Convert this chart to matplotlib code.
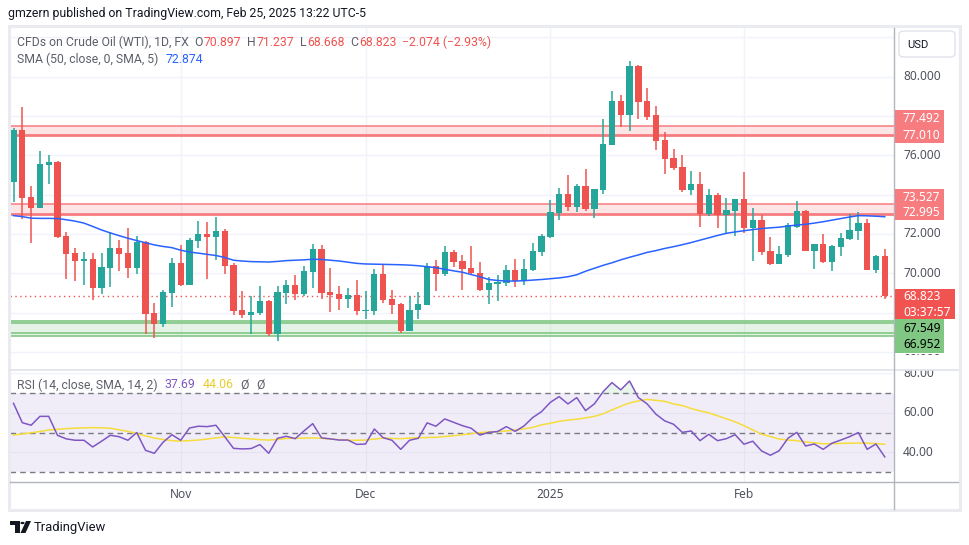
import numpy as np
import pandas as pd
import matplotlib
matplotlib.use("Agg")
import matplotlib.pyplot as plt
from matplotlib.patches import Rectangle, FancyBboxPatch, Polygon, Circle
from matplotlib.transforms import Bbox, TransformedBbox

# ---------------- data ----------------
opens = [74.66, 77.29, 73.88, 73.33, 75.52, 75.66, 71.89, 71.03, 70.64, 70.72,
         69.26, 70.28, 71.28, 71.03, 70.28, 71.59, 67.97, 67.43, 69.01, 70.52,
         69.42, 71.66, 72.00, 71.86, 72.15, 70.42, 68.13, 67.87, 67.97, 68.58,
         66.92, 69.01, 69.40, 68.94, 70.06, 71.23, 69.04, 68.94, 68.69, 68.89,
         68.09, 68.09, 69.96, 68.69, 68.43, 67.08, 68.13, 68.38, 70.37, 69.96,
         71.08, 70.62, 70.26, 70.01, 69.15, 69.45, 69.50, 70.16, 69.60, 70.16,
         71.08, 71.84, 73.06, 74.03, 73.37, 74.44, 73.27, 74.24, 76.52, 78.76,
         78.05, 80.55, 78.76, 78.05, 76.78, 75.86, 75.40, 74.23, 74.54, 73.01,
         73.98, 72.96, 73.17, 73.78, 72.30, 72.71, 71.13, 70.47, 70.93, 72.35,
         73.17, 71.13, 71.49, 70.57, 71.33, 71.74, 72.15, 72.55, 70.16, 70.897]
highs = [77.41, 78.47, 74.44, 76.22, 76.02, 75.70, 72.10, 71.28, 71.08, 71.03,
         71.03, 72.10, 71.69, 72.32, 71.89, 71.62, 68.48, 69.14, 70.77, 71.44,
         71.79, 72.66, 72.61, 72.86, 72.25, 70.50, 69.09, 68.84, 69.35, 68.63,
         69.35, 69.65, 69.91, 70.37, 71.49, 71.44, 70.27, 69.35, 69.25, 69.65,
         69.09, 70.21, 70.47, 69.14, 68.48, 68.84, 69.04, 70.52, 70.67, 71.38,
         71.18, 70.93, 71.38, 70.57, 69.81, 69.91, 70.42, 70.72, 70.72, 71.54,
         72.00, 73.73, 74.34, 75.00, 74.54, 75.30, 74.31, 77.85, 79.27, 79.07,
         80.80, 80.60, 79.42, 78.51, 77.19, 76.30, 76.02, 75.20, 75.15, 74.29,
         74.08, 73.83, 73.80, 75.15, 73.32, 72.96, 71.84, 71.38, 72.55, 73.67,
         73.22, 71.49, 71.99, 71.44, 72.05, 73.01, 73.11, 72.76, 70.93, 71.237]
lows = [73.64, 72.74, 71.55, 73.30, 74.54, 71.81, 69.72, 69.62, 69.42, 68.65,
        68.96, 69.32, 70.13, 69.77, 69.98, 66.92, 66.72, 67.28, 68.30, 69.36,
        69.40, 71.30, 69.72, 70.69, 69.98, 67.87, 67.74, 66.92, 67.87, 66.82,
        66.57, 68.43, 68.64, 68.84, 69.25, 68.69, 68.03, 68.13, 68.23, 67.87,
        67.67, 67.87, 68.48, 67.92, 66.97, 67.06, 67.67, 68.36, 69.09, 69.86,
        70.32, 69.15, 69.96, 69.09, 68.43, 68.59, 69.35, 69.30, 69.40, 70.11,
        70.88, 71.79, 72.71, 73.17, 73.12, 73.17, 72.81, 74.03, 76.50, 77.46,
        77.24, 77.85, 77.80, 76.27, 75.05, 75.25, 74.13, 73.98, 72.35, 72.91,
        72.30, 72.05, 71.89, 72.05, 70.62, 70.93, 70.42, 70.45, 70.83, 72.30,
        71.13, 70.21, 70.52, 70.11, 70.88, 71.69, 71.69, 70.14, 70.01, 68.668]
closes = [77.29, 73.84, 73.33, 75.56, 75.66, 71.86, 70.99, 70.64, 70.72, 69.26,
          70.32, 71.28, 70.99, 70.28, 71.60, 67.94, 67.43, 69.04, 70.52, 69.42,
          71.69, 72.00, 71.86, 72.15, 70.38, 68.09, 67.87, 68.03, 68.58, 66.92,
          69.04, 69.40, 68.94, 70.11, 71.23, 69.01, 68.89, 68.69, 68.89, 68.09,
          68.13, 69.96, 68.64, 68.38, 67.08, 68.13, 68.43, 70.37, 69.96, 71.08,
          70.57, 70.21, 70.00, 69.15, 69.50, 69.55, 70.16, 69.60, 70.21, 71.13,
          71.89, 73.11, 74.03, 73.37, 74.44, 73.27, 74.29, 76.58, 78.76, 78.05,
          80.55, 78.71, 77.94, 76.73, 75.81, 75.35, 74.23, 74.54, 73.01, 73.98,
          72.96, 73.22, 73.78, 72.30, 72.71, 71.08, 70.47, 70.98, 72.45, 73.17,
          71.13, 71.49, 70.57, 71.38, 71.79, 72.20, 72.55, 70.16, 70.897, 68.823]
sma50 = [72.93, 72.88, 72.80, 72.79, 72.79, 72.78, 72.72, 72.65, 72.55, 72.38,
         72.20, 72.05, 71.91, 71.78, 71.66, 71.55, 71.44, 71.36, 71.30, 71.17,
         71.08, 71.02, 70.96, 70.90, 70.80, 70.66, 70.62, 70.59, 70.58, 70.57,
         70.60, 70.64, 70.66, 70.68, 70.71, 70.70, 70.66, 70.62, 70.56, 70.50,
         70.47, 70.46, 70.45, 70.44, 70.43, 70.41, 70.38, 70.33, 70.28, 70.20,
         70.12, 70.05, 69.93, 69.82, 69.68, 69.63, 69.60, 69.60, 69.62, 69.65,
         69.68, 69.72, 69.76, 69.82, 69.92, 70.10, 70.25, 70.40, 70.53, 70.68,
         70.81, 70.93, 71.06, 71.15, 71.26, 71.35, 71.45, 71.56, 71.68, 71.80,
         71.92, 72.03, 72.10, 72.16, 72.22, 72.27, 72.31, 72.34, 72.40, 72.45,
         72.49, 72.55, 72.62, 72.70, 72.78, 72.86, 72.93, 72.92, 72.90, 72.874]
rsi = [64.8, 55.0, 53.7, 58.2, 58.2, 48.6, 46.8, 46.1, 46.1, 42.7,
       45.6, 48.6, 47.9, 46.1, 50.0, 41.0, 39.5, 45.1, 48.9, 46.1,
       52.3, 53.2, 53.0, 53.7, 47.9, 42.0, 41.7, 41.9, 43.9, 39.5,
       47.1, 48.1, 46.9, 50.8, 54.5, 47.3, 46.8, 46.2, 46.2, 44.0,
       44.2, 51.8, 47.4, 46.1, 41.5, 46.1, 47.1, 54.9, 53.2, 56.9,
       55.2, 53.5, 52.2, 48.7, 50.1, 50.5, 53.0, 50.6, 53.3, 57.6,
       60.6, 65.3, 68.2, 64.5, 67.7, 61.1, 64.5, 70.7, 75.3, 71.6,
       76.1, 67.7, 64.5, 59.3, 55.9, 54.2, 50.1, 50.8, 45.9, 49.1,
       45.9, 46.9, 48.9, 44.1, 45.6, 40.7, 38.5, 40.8, 47.1, 50.1,
       43.2, 44.2, 41.5, 44.6, 46.2, 47.9, 50.0, 41.5, 44.2, 37.69]
rsi_sma = [48.8, 49.3, 49.9, 50.5, 51.3, 51.6, 52.0, 52.2, 52.4, 52.5,
           52.4, 52.2, 51.4, 50.6, 49.5, 48.3, 47.2, 46.5, 45.9, 45.7,
           45.9, 46.2, 46.7, 47.3, 47.8, 47.5, 47.1, 46.8, 46.4, 46.2,
           46.5, 47.0, 47.1, 47.2, 47.3, 47.1, 46.7, 46.4, 46.1, 46.1,
           46.2, 46.7, 47.2, 47.0, 46.9, 47.2, 47.4, 47.5, 47.6, 48.0,
           48.4, 48.9, 49.4, 49.96, 50.3, 50.5, 50.8, 51.2, 51.9, 52.6,
           53.9, 54.7, 55.7, 56.3, 56.8, 57.4, 58.2, 59.5, 61.5, 63.3,
           65.0, 66.0, 66.8, 66.3, 65.8, 64.5, 63.7, 62.2, 61.0, 60.0,
           58.5, 57.0, 55.4, 53.5, 51.3, 49.2, 48.0, 46.7, 46.2, 45.9,
           45.2, 44.8, 44.3, 44.4, 44.5, 44.6, 44.7, 44.6, 44.4, 44.06]
resist_zones = [(77.010, 77.492), (72.995, 73.527)]
support_zone = (66.952, 67.549)
support_zone_inner = (66.80, 67.45)
countdown = "03:37:57"
price_tick_values = [80, 76, 72, 70, 66]
price_grid_values = [66, 68, 70, 72, 74, 76, 78, 80, 82]
rsi_tick_values = [80, 60, 40]
rsi_levels = [70, 50, 30]

dates = pd.bdate_range("2024-10-07", "2025-02-25")
dates = dates[~dates.isin(pd.to_datetime(["2024-12-25", "2025-01-01"]))]

# ---------------- styling ----------------
FONT = ["Noto Sans", "DejaVu Sans"]
UI = ["Roboto", "DejaVu Sans"]
plt.rcParams["font.family"] = FONT
GREEN = "#26A69A"
RED = "#EF5350"
GRID = "#F0F3FA"
AXCOL = "#B2B5BE"
TXT = "#131722"
GRAY = "#50535E"

W, H = 970, 545
fig = plt.figure(figsize=(W / 100, H / 100), dpi=100)
fig.patch.set_facecolor("white")


def fx(x):
    return x / W


def fy(y):
    return 1 - y / H


def axrect(x0, y0, x1, y1):
    return [fx(x0), fy(y1), (x1 - x0) / W, (y1 - y0) / H]


ax = fig.add_axes(axrect(10, 28, 894, 369))
axr = fig.add_axes(axrect(10, 369, 894, 482), sharex=ax)
for a in (ax, axr):
    for s in a.spines.values():
        s.set_visible(False)
    a.tick_params(left=False, bottom=False, labelleft=False, labelbottom=False)
    a.set_facecolor("none")

n = len(closes)
x = np.arange(n)
ax.set_xlim(-0.398, 100.05)
ax.set_ylim(65.125, 82.478)
axr.set_ylim(24.96, 82.18)

# month tick positions
month_idx = [i for i in range(n) if i == 0 or dates[i].month != dates[i - 1].month][1:]
month_lab = [str(dates[i].year) if dates[i].month == 1 else dates[i].strftime("%b") for i in month_idx]

# grids
for v in price_grid_values:
    ax.axhline(v, color=GRID, lw=1, zorder=0)
for v in rsi_tick_values:
    axr.axhline(v, color=GRID, lw=1, zorder=0)
for i in month_idx:
    ax.axvline(i, color=GRID, lw=1, zorder=0)
    axr.axvline(i, color=GRID, lw=1, zorder=0)

# zones
for lo, hi in resist_zones:
    ax.axhspan(lo, hi, color="#F23645", alpha=0.13, lw=0, zorder=1)
    ax.axhline(hi, color="#F77C80", lw=1.1, zorder=1.5)
    ax.axhline(lo, color="#F77C80", lw=2.0, zorder=1.5)
ax.axhspan(support_zone_inner[0], support_zone[1], color="#4CAF50", alpha=0.14, lw=0, zorder=1)
for v in (support_zone[1], support_zone_inner[1], support_zone[0], support_zone_inner[0]):
    ax.axhline(v, color="#81C784", lw=1.2, zorder=1.5)

# candles
o = np.array(opens); c = np.array(closes); hi_ = np.array(highs); lo_ = np.array(lows)
cols = [GREEN if cc >= oo else RED for oo, cc in zip(o, c)]
ax.vlines(x, lo_, hi_, color=cols, lw=1.1, zorder=3)
body_h = np.maximum(np.abs(c - o), 0.05)
ax.bar(x, body_h, bottom=np.minimum(o, c), width=0.72, color=cols, lw=0, zorder=4)

# SMA
ax.plot(x, sma50, color="#2962FF", lw=1.1, zorder=5)
# last price line
ax.axhline(closes[-1], color=RED, lw=1, ls=(0, (1, 2.5)), zorder=2)

# RSI pane
axr.axhspan(rsi_levels[2], rsi_levels[0], color="#7E57C2", alpha=0.1, lw=0, zorder=0.5)
for v in rsi_levels:
    axr.axhline(v, color="#787B86", lw=1, ls=(0, (4, 3)), zorder=1)
r = np.array(rsi)
axr.fill_between(x, r, rsi_levels[0], where=r > rsi_levels[0], interpolate=True,
                 color="#4CAF50", alpha=0.12, lw=0, zorder=1)
axr.plot(x, rsi_sma, color="#F5DD3A", lw=1.1, zorder=2)
axr.plot(x, rsi, color="#7E57C2", lw=1.1, zorder=3)

# price axis labels (clipped to their panes like the reference)
clip_price = TransformedBbox(Bbox([[fx(10), fy(369)], [fx(958), fy(28)]]), fig.transFigure)
clip_low = TransformedBbox(Bbox([[fx(10), fy(369)], [fx(958), fy(353.5)]]), fig.transFigure)
clip_rsi = TransformedBbox(Bbox([[fx(10), fy(482)], [fx(958), fy(369.5)]]), fig.transFigure)
for v in price_tick_values:
    t = ax.text(1.0102, v, f"{v:.3f}", transform=ax.get_yaxis_transform(), va="center",
                ha="left", fontsize=8.6, color=GRAY, zorder=1)
    t.set_clip_on(True)
    t.set_clip_box(clip_low if v == min(price_tick_values) else clip_price)
for v in rsi_tick_values:
    t = axr.text(1.0102, v, f"{v:.2f}", transform=axr.get_yaxis_transform(), va="center",
                 ha="left", fontsize=8.6, color=GRAY, zorder=1)
    t.set_clip_on(True)
    t.set_clip_box(clip_rsi)

# x labels
for i, lab in zip(month_idx, month_lab):
    xp = 13.5 + 8.8 * i
    fig.text(fx(xp), fy(495), lab, ha="center", va="center", fontsize=8.6,
             color="#4A4D58" if lab.isdigit() else GRAY,
             fontweight="semibold" if lab.isdigit() else "normal")

# frame and axis lines
fig.add_artist(Rectangle((fx(9), fy(509.5)), (951) / W, (509.5 - 26) / H, transform=fig.transFigure,
                         fill=False, ec="#E9EBF0", lw=2.2, zorder=0.1))
fig.add_artist(plt.Line2D([fx(10), fx(958)], [fy(369.5), fy(369.5)], color="#E0E3EB", lw=1.2))
fig.add_artist(plt.Line2D([fx(10), fx(958)], [fy(482), fy(482)], color=AXCOL, lw=1))
fig.add_artist(plt.Line2D([fx(894), fx(894)], [fy(28), fy(509)], color=AXCOL, lw=1))


# label boxes on price axis
def box(x0, y0, x1, y1, color, lines, tcol):
    fig.add_artist(Rectangle((fx(x0), fy(y1)), (x1 - x0) / W, (y1 - y0) / H,
                             transform=fig.transFigure, fc=color, ec="none", zorder=5))
    m = len(lines)
    for k, s in enumerate(lines):
        yy = y0 + (y1 - y0) * (k + 0.5) / m + 0.5
        fig.text(fx(903), fy(yy), s, ha="left", va="center", fontsize=8.6,
                 color=tcol, fontweight="semibold", zorder=6)


box(895, 110, 944, 143, "#F77C80", [f"{resist_zones[0][1]:.3f}", f"{resist_zones[0][0]:.3f}"], "white")
box(895, 189, 944, 220, "#F77C80", [f"{resist_zones[1][1]:.3f}", f"{resist_zones[1][0]:.3f}"], "white")
box(895, 289, 955, 319, "#F05350", [f"{closes[-1]:.3f}", countdown], "white")
box(895, 319, 944, 353, "#81C784", [f"{support_zone[1]:.3f}", f"{support_zone[0]:.3f}"], "black")

# USD button
fig.add_artist(FancyBboxPatch((fx(899), fy(57)), 56 / W, 26 / H, boxstyle="round,pad=0,rounding_size=0.006",
                              transform=fig.transFigure, fc="white", ec="#E0E3EB", lw=1, zorder=5))
fig.text(fx(907), fy(44.5), "USD", ha="left", va="center", fontsize=8, color=TXT, zorder=6, family=UI)

# header
fig.text(fx(8), fy(14), "gmzern published on TradingView.com, Feb 25, 2025 13:22 UTC-5",
         ha="left", va="center", fontsize=8.8, color=TXT, family=UI)

renderer = fig.canvas.get_renderer()


def seq(x0, y, parts, fs=8.8):
    xx = x0
    for s, col, gap in parts:
        t = fig.text(fx(xx), fy(y), s, ha="left", va="center", fontsize=fs, color=col,
                     zorder=6, family=UI)
        bb = t.get_window_extent(renderer)
        xx = bb.x1 + gap


chg = closes[-1] - closes[-2]
pct = chg / closes[-2] * 100
LG = "#5D606B"
seq(17, 42, [("CFDs on Crude Oil (WTI), 1D, FX", LG, 6),
             ("O", LG, 0.5), (f"{opens[-1]:.3f}", RED, 6),
             ("H", LG, 0.5), (f"{highs[-1]:.3f}", RED, 6),
             ("L", LG, 0.5), (f"{lows[-1]:.3f}", RED, 6),
             ("C", LG, 0.5), (f"{closes[-1]:.3f}", RED, 6),
             (f"\u2212{abs(chg):.3f} (\u2212{abs(pct):.2f}%)", RED, 0)])
seq(17, 59, [("SMA (50, close, 0, SMA, 5)", LG, 7), (f"{sma50[-1]:.3f}", "#2962FF", 0)])
seq(17, 385, [("RSI (14, close, SMA, 14, 2)", LG, 7), (f"{rsi[-1]:.2f}", "#7E57C2", 7),
              (f"{rsi_sma[-1]:.2f}", "#EBCB2A", 7), ("\u00d8", LG, 7), ("\u00d8", LG, 0)])

# TradingView logo
fig.add_artist(Polygon([(fx(10), fy(521)), (fx(19.5), fy(521)), (fx(19.5), fy(533)), (fx(15.5), fy(533)),
                        (fx(15.5), fy(525)), (fx(10), fy(525))], closed=True, transform=fig.transFigure,
                       fc=TXT, ec="none"))
fig.add_artist(Circle((fx(22.5), fy(523)), 2.1 / W, transform=fig.transFigure, fc=TXT, ec="none"))
fig.add_artist(Polygon([(fx(26), fy(521)), (fx(31), fy(521)), (fx(25.5), fy(533)), (fx(20.5), fy(533))],
                       closed=True, transform=fig.transFigure, fc=TXT, ec="none"))
fig.text(fx(34), fy(527), "TradingView", ha="left", va="center", fontsize=9.4, color=TXT, family=UI)

fig.savefig("out.png", dpi=100, facecolor="white")
